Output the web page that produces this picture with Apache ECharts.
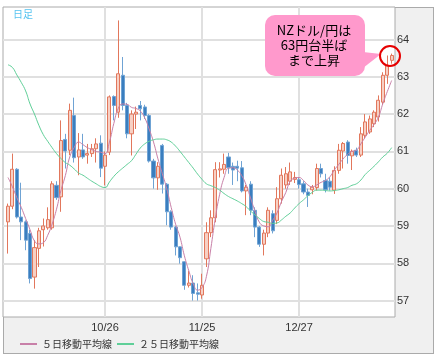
<!DOCTYPE html>
<html><head><meta charset="utf-8">
<script src="https://cdn.jsdelivr.net/npm/echarts@6.0.0/dist/echarts.min.js"></script>
<style>
html,body{margin:0;padding:0;background:#fff;}
#frame{position:absolute;left:3px;top:7px;width:429px;height:345px;background:#f0f0f0;border:1px solid #aaa;}
#chart{position:absolute;left:0;top:0;width:436px;height:358px;}
</style></head>
<body><div id="frame"></div><div id="chart"></div>
<script>
const dates = ['9/26','9/27','9/28','9/29','9/30','10/3','10/4','10/5','10/6','10/7','10/10','10/11','10/12','10/13','10/14','10/17','10/18','10/19','10/20','10/21','10/24','10/25','10/26','10/27','10/28','10/31','11/1','11/2','11/3','11/4','11/7','11/8','11/9','11/10','11/11','11/14','11/15','11/16','11/17','11/18','11/21','11/22','11/23','11/24','11/25','11/28','11/29','11/30','12/1','12/2','12/5','12/6','12/7','12/8','12/9','12/12','12/13','12/14','12/15','12/16','12/19','12/20','12/21','12/22','12/23','12/26','12/27','12/28','12/29','12/30','1/2','1/3','1/4','1/5','1/6','1/9','1/10','1/11','1/12','1/13','1/16','1/17','1/18','1/19','1/20','1/23','1/24','1/25'];
const xTickLabels = ['10/26','11/25','12/27'];
const yTicks = [57,58,59,60,61,62,63,64];

const openVals = [59.11,59.53,60.52,59.24,59.11,58.80,57.63,58.40,58.90,58.95,58.95,60.09,59.78,61.32,61.03,61.96,60.85,61.04,60.90,60.94,61.07,61.22,60.60,60.98,62.47,62.05,63.04,62.23,61.47,62.00,62.23,62.19,61.96,60.74,60.29,61.16,60.12,59.38,58.97,58.44,58.04,57.41,57.47,57.21,57.15,58.12,58.82,59.22,60.50,60.52,60.85,60.60,60.60,60.56,59.94,60.12,59.42,58.97,58.51,58.81,59.33,59.15,59.73,60.10,60.20,60.25,60.24,60.13,59.91,59.97,60.03,60.54,60.22,60.20,59.96,60.49,61.01,61.25,60.88,61.03,60.90,61.43,61.52,61.74,61.92,62.32,63.04,63.44];
const closeVals = [59.53,60.52,59.24,59.11,58.62,57.59,58.42,58.87,59.00,59.17,60.13,59.76,61.29,61.01,62.10,60.83,61.04,60.85,60.94,61.07,61.20,60.55,60.90,62.46,62.23,63.08,62.23,61.47,62.00,62.05,62.14,61.96,60.74,60.29,60.60,60.12,59.38,58.97,58.44,58.15,57.41,57.47,57.19,57.17,57.41,58.82,59.22,60.51,60.53,60.65,60.56,60.50,60.55,59.94,60.04,59.42,58.97,58.51,58.81,59.42,58.87,59.73,60.36,60.40,60.45,60.30,60.11,59.91,59.82,60.04,60.54,60.40,59.97,60.04,60.49,61.03,61.21,60.89,61.00,60.90,61.47,61.79,61.87,62.05,62.37,63.04,63.30,63.57];
const lowVals = [58.26,59.45,59.20,58.62,58.35,57.46,57.32,57.90,58.45,58.90,58.90,59.70,59.38,60.54,60.90,60.70,60.36,60.80,60.67,60.85,60.70,60.31,60.09,60.90,61.83,61.90,62.10,61.35,60.89,61.60,61.83,61.87,60.70,60.00,59.97,59.87,59.02,58.90,58.21,57.99,57.29,57.35,57.00,57.00,57.05,57.90,58.70,59.10,60.30,60.40,60.40,60.10,60.20,59.90,59.29,59.29,58.70,58.44,58.21,58.70,58.80,59.05,59.60,60.00,60.10,60.15,60.00,59.85,59.51,59.85,59.95,60.30,59.90,59.95,59.86,60.40,60.54,60.67,60.50,60.85,60.85,61.35,61.47,61.65,61.80,62.25,62.81,63.35];
const highVals = [59.60,60.94,60.55,60.16,59.15,58.90,58.62,58.95,59.20,59.50,60.20,60.20,61.83,61.47,62.28,62.44,61.49,61.47,61.20,61.20,61.35,61.43,61.00,62.50,62.50,64.51,63.53,62.30,62.10,62.20,62.35,62.25,62.00,60.80,60.71,61.20,60.15,59.42,59.00,58.45,58.05,57.80,57.68,57.46,57.72,59.10,59.42,60.71,60.71,60.94,60.96,60.70,60.75,60.74,60.10,60.20,59.50,59.00,58.90,59.50,59.42,60.04,60.54,60.58,60.70,60.45,60.30,60.20,60.00,60.10,60.67,60.67,60.40,60.30,60.60,61.20,61.25,61.30,61.05,61.10,61.65,62.00,61.96,62.10,62.50,63.12,63.57,63.62];
const ma5 = [60.3,60.05,59.76,59.5,59.2,58.9,58.6,58.52,58.55,58.75,59.05,59.45,59.95,60.35,60.85,61.1,61.25,61.18,61.1,61.05,61.0,60.98,60.94,61.25,61.75,62.15,62.27,62.26,62.18,62.15,62.08,61.9,61.6,61.25,60.8,60.4,60.0,59.5,59.05,58.7,58.2,57.8,57.45,57.28,57.35,57.65,58.4,59.2,59.85,60.3,60.55,60.56,60.5,60.35,60.1,59.75,59.4,59.1,59.0,58.98,59.15,59.35,59.65,59.9,60.2,60.28,60.3,60.22,60.1,60.05,60.1,60.17,60.22,60.32,60.5,60.65,60.8,60.92,61.0,61.03,61.2,61.38,61.56,61.72,61.92,62.28,62.6,62.9];
const ma25 = [63.32,63.25,63.05,62.85,62.62,62.27,62.0,61.7,61.45,61.27,61.1,60.94,60.81,60.7,60.63,60.53,60.42,60.36,60.28,60.2,60.13,60.06,60.03,60.18,60.33,60.45,60.55,60.65,60.75,60.92,61.09,61.2,61.27,61.31,61.33,61.33,61.31,61.25,61.14,61.0,60.85,60.7,60.55,60.39,60.25,60.13,60.08,60.03,59.96,59.87,59.79,59.73,59.67,59.6,59.52,59.4,59.3,59.2,59.12,59.1,59.07,59.08,59.16,59.26,59.35,59.48,59.6,59.7,59.81,59.9,59.96,59.96,59.95,59.94,59.95,59.97,60.0,60.03,60.09,60.13,60.23,60.38,60.49,60.6,60.72,60.85,60.95,61.1];
const seriesNames = ['５日移動平均線','２５日移動平均線'];

const candleData = dates.map((d, i) => [openVals[i], closeVals[i], lowVals[i], highVals[i]]);

const chart = echarts.init(document.getElementById('chart'), null, {renderer: 'canvas'});
const W = 436, H = 358;
chart.setOption({
  animation: false,
  backgroundColor: 'transparent',
  grid: [
    {left: 3, right: W - 395, top: 7, bottom: H - 317, show: true, backgroundColor: '#fff', borderColor: '#aaa', borderWidth: 1},
    {left: 8, right: W - 391.67, top: 7, bottom: H - 317},
    {left: 3, right: W - 395, top: 39.5, bottom: H - 300.7}
  ],
  xAxis: [
    {gridIndex: 0, type: 'value', min: 0, max: 1, show: false},
    {gridIndex: 1, type: 'category', data: dates, boundaryGap: false,
     axisLine: {show: false}, axisTick: {show: false},
     axisLabel: {interval: (idx) => xTickLabels.indexOf(dates[idx]) >= 0, color: '#333', fontSize: 11, fontFamily: 'Liberation Sans', margin: 5, hideOverlap: false},
     splitLine: {show: true, interval: (idx) => xTickLabels.indexOf(dates[idx]) >= 0, lineStyle: {color: '#e0e0e0', width: 2}}},
    {gridIndex: 2, type: 'value', min: 0, max: 1, show: false}
  ],
  yAxis: [
    {gridIndex: 0, type: 'value', min: 0, max: 1, show: false},
    {gridIndex: 1, type: 'value', min: 56.56, max: 64.87, show: false, scale: true},
    {gridIndex: 2, type: 'value', position: 'right', min: yTicks[0], max: yTicks[yTicks.length - 1], interval: 1,
     axisLine: {show: false}, axisTick: {show: false},
     axisLabel: {color: '#333', fontSize: 11, fontFamily: 'Liberation Sans', margin: 2},
     splitLine: {show: true, lineStyle: {color: '#e0e0e0', width: 2}}}
  ],
  legend: {
    data: seriesNames, left: 15, top: 334, itemWidth: 17, itemHeight: 2, itemGap: 5, icon: 'rect',
    selectedMode: false,
    textStyle: {fontSize: 10, color: '#333', fontFamily: 'Noto Sans CJK JP'}
  },
  series: [
    {type: 'candlestick', xAxisIndex: 1, yAxisIndex: 1, data: candleData, barWidth: 3.6, clip: false,
     itemStyle: {color: '#f7d0c4', borderColor: '#e2775c', color0: '#3a7ebf', borderColor0: '#6fa3d4', borderWidth: 1}},
    {type: 'line', name: seriesNames[0], xAxisIndex: 1, yAxisIndex: 1, data: ma5, symbol: 'none', smooth: true, clip: false, z: 5,
     color: '#c880a8', lineStyle: {width: 1, color: '#c880a8'}},
    {type: 'line', name: seriesNames[1], xAxisIndex: 1, yAxisIndex: 1, data: ma25, symbol: 'none', smooth: true, clip: false, z: 5,
     color: '#5fcf98', lineStyle: {width: 1, color: '#5fcf98'}}
  ],
  graphic: [
    {type: 'text', left: 13, top: 9, z: 50, style: {text: '日足', fill: '#55c3f0', font: '10px "Noto Sans CJK JP"'}},
    {type: 'rect', z: 100, shape: {x: 265, y: 15, width: 100, height: 61, r: 10}, style: {fill: '#ff99cc'}},
    {type: 'polygon', z: 100, shape: {points: [[363, 52], [381, 54], [363, 68]]}, style: {fill: '#ff99cc'}},
    {type: 'text', z: 101, style: {text: 'NZドル/円は', x: 314, y: 30, fill: '#000', textAlign: 'center', textVerticalAlign: 'middle', font: '13px "Noto Sans CJK JP"'}},
    {type: 'text', z: 101, style: {text: '63円台半ば', x: 314, y: 45, fill: '#000', textAlign: 'center', textVerticalAlign: 'middle', font: '13px "Noto Sans CJK JP"'}},
    {type: 'text', z: 101, style: {text: 'まで上昇', x: 314, y: 60, fill: '#000', textAlign: 'center', textVerticalAlign: 'middle', font: '13px "Noto Sans CJK JP"'}},
    {type: 'circle', z: 101, shape: {cx: 390, cy: 56, r: 10}, style: {fill: 'none', stroke: '#e60000', lineWidth: 2}}
  ]
});
</script></body></html>
